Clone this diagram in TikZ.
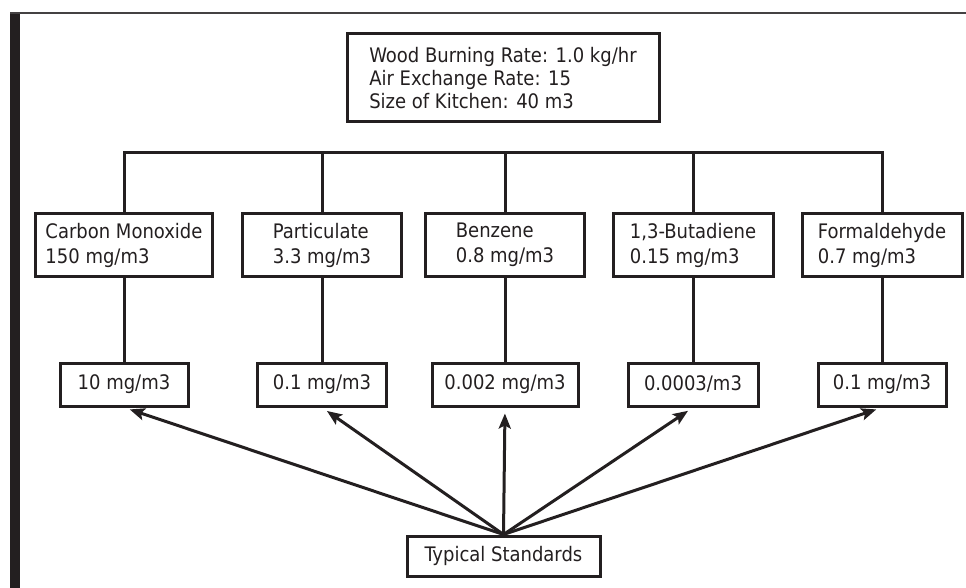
\documentclass[tikz,border=0pt]{standalone}
\usepackage{fontspec}
\setmainfont{DejaVu Sans Condensed}
\usetikzlibrary{arrows.meta}
\definecolor{ink}{HTML}{231F20}
\begin{document}
\begin{tikzpicture}[x=1pt,y=-1pt,
  box/.style={draw=ink, line width=3pt, text=ink, inner sep=0pt, align=left,
    font=\fontsize{20}{25}\selectfont},
  topbox/.style={box, minimum width=312pt, minimum height=88pt,
    font=\fontsize{20}{23}\selectfont},
  pollutant/.style={box, minimum height=62pt},
  limit/.style={box, minimum height=43pt, align=center},
  link/.style={draw=ink, line width=3pt},
  pointer/.style={link, -{Stealth[length=15pt,width=12pt,inset=3pt]}, shorten >=6pt}]
\useasboundingbox (0,0) rectangle (966,588);

% page frame: heavy bar on the left, rule along the top
\fill[ink] (10,13) rectangle (20,588);
\draw[ink!85, line width=2pt] (10,13) -- (966,13);

% input parameters
\node[topbox] (inputs) at (503,78)
  {Wood Burning Rate: 1.0 kg/hr\\Air Exchange Rate: 15\\Size of Kitchen: 40 m3};

% estimated concentrations
\node[pollutant, minimum width=177pt] (co)   at (124,245) {Carbon Monoxide\\150 mg/m3};
\node[pollutant, minimum width=159pt] (pm)   at (322,245) {Particulate\\3.3 mg/m3};
\node[pollutant, minimum width=159pt] (bz)   at (505,245) {Benzene\\0.8 mg/m3};
\node[pollutant, minimum width=160pt] (bd)   at (693,245) {1,3-Butadiene\\0.15 mg/m3};
\node[pollutant, minimum width=160pt] (fa)   at (882,245) {Formaldehyde\\0.7 mg/m3};

% standard values
\node[limit, minimum width=128pt] (coL) at (124,384.5) {10 mg/m3};
\node[limit, minimum width=129pt] (pmL) at (322,384.5) {0.1 mg/m3};
\node[limit, minimum width=146pt] (bzL) at (505,384.5) {0.002 mg/m3};
\node[limit, minimum width=130pt] (bdL) at (693,384.5) {0.0003/m3};
\node[limit, minimum width=128pt] (faL) at (882,384.5) {0.1 mg/m3};

\node[limit, minimum width=193pt, minimum height=40pt] (std) at (503.5,556) {Typical Standards};

% distribution bus
\coordinate (bus) at (0,153);
\draw[link, line join=miter] (co.north) -- (co.north |- bus) -- (fa.north |- bus) -- (fa.north);
\foreach \n in {pm,bz,bd}
  \draw[link] (\n.north) -- (\n.north |- bus);

% concentration to standard
\foreach \n in {co,pm,bz,bd,fa}
  \draw[link] (\n.south) -- (\n L.north);

% standards pointing up
\foreach \n in {coL,pmL,bzL,bdL,faL}
  \draw[pointer] (std.north) -- (\n.south);
\end{tikzpicture}
\end{document}
